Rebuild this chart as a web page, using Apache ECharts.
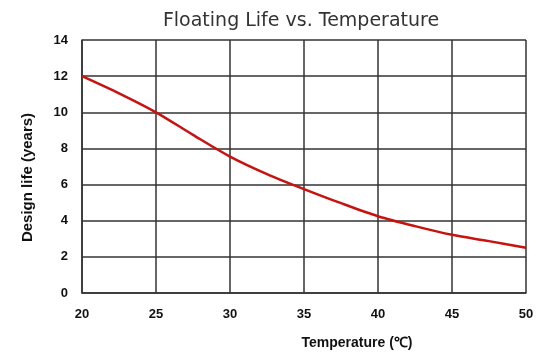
<!DOCTYPE html>
<html><head><meta charset="utf-8">
<script src="https://cdn.jsdelivr.net/npm/echarts@6/dist/echarts.min.js"></script>
<style>html,body{margin:0;padding:0;background:#fff}#c{width:550px;height:362px}</style>
</head><body><div id="c"></div>
<script>
const temperatures = [20, 22.5, 25, 27.5, 30, 32.5, 35, 37.5, 40, 42.5, 45, 47.5, 50];
const lifeYears = [12.0, 11.05, 10.0, 8.75, 7.55, 6.58, 5.75, 4.97, 4.25, 3.7, 3.22, 2.87, 2.5];
const xTicks = [20, 25, 30, 35, 40, 45, 50];
const yTicks = [0, 2, 4, 6, 8, 10, 12, 14];

const chart = echarts.init(document.getElementById('c'));
const gridColor = '#333';
const labelFont = { fontFamily: 'Liberation Sans', fontWeight: 'bold', fontSize: 13, color: '#111' };
chart.setOption({
  animation: false,
  title: {
    text: 'Floating Life vs. Temperature',
    left: 296, top: 7, textAlign: 'center',
    textStyle: { fontFamily: 'DejaVu Sans', fontSize: 19, fontWeight: 'normal', color: '#333' }
  },
  grid: { left: 82, right: 24, top: 40, bottom: 69 },
  xAxis: {
    type: 'value', min: xTicks[0], max: xTicks[xTicks.length - 1], interval: 5,
    name: 'Temperature (℃)', nameLocation: 'middle', nameGap: 43,
    nameTextStyle: { fontFamily: 'Liberation Sans', fontWeight: 'bold', fontSize: 14, color: '#111', padding: [0, 0, 0, 106] },
    axisLine: { show: true, lineStyle: { color: gridColor, width: 1.5 } },
    axisTick: { show: false },
    axisLabel: Object.assign({ margin: 15 }, labelFont),
    splitLine: { show: true, lineStyle: { color: gridColor, width: 1.5 } }
  },
  yAxis: {
    type: 'value', min: yTicks[0], max: yTicks[yTicks.length - 1], interval: 2,
    name: 'Design life (years)', nameLocation: 'middle', nameGap: 47,
    nameTextStyle: { fontFamily: 'Liberation Sans', fontWeight: 'bold', fontSize: 15, color: '#111', padding: [0, 22, 0, 0] },
    axisLine: { show: true, lineStyle: { color: gridColor, width: 1.5 } },
    axisTick: { show: false },
    axisLabel: Object.assign({ margin: 14 }, labelFont),
    splitLine: { show: true, lineStyle: { color: gridColor, width: 1.5 } }
  },
  series: [{
    type: 'line', smooth: 0.3, symbol: 'none',
    data: temperatures.map((t, i) => [t, lifeYears[i]]),
    lineStyle: { color: '#c8120e', width: 2.5 }
  }]
});
</script></body></html>
